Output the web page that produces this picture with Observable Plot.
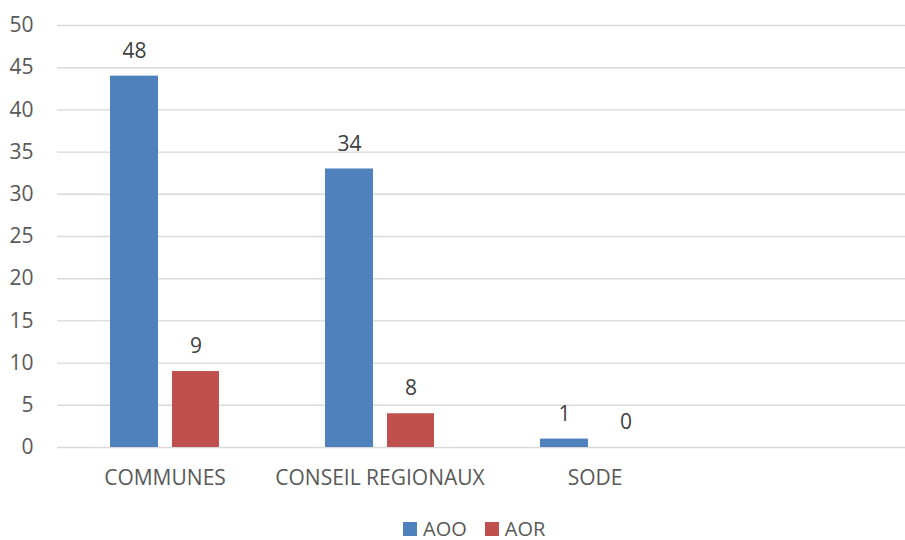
<!DOCTYPE html>
<html><head><meta charset="utf-8">
<script src="https://cdn.jsdelivr.net/npm/d3@7"></script>
<script src="https://cdn.jsdelivr.net/npm/@observablehq/plot@0.6"></script>
<style>
html,body{margin:0;padding:0;background:#fff;font-family:"Open Sans",sans-serif;}
body{position:relative;width:905px;height:540px;}
#plot{width:905px;height:500px;overflow:hidden;background:#fff;}
#plot svg{max-width:none !important;display:block;}
#legend{position:absolute;left:403px;top:518px;display:flex;align-items:center;font-size:20px;line-height:22px;color:#595959;white-space:nowrap;}
#legend .sw{display:inline-block;width:14px;height:14px;margin-right:6px;}
#legend .item{display:flex;align-items:center;margin-right:18px;}
</style></head><body>
<div id="plot"></div>
<script>
const categories = ["COMMUNES", "CONSEIL REGIONAUX", "SODE", ""];
const seriesNames = ["AOO", "AOR"];
const aooValues = [44, 33, 1];
const aorValues = [9, 4, 0];
const aooLabels = ["48", "34", "1"];
const aorLabels = ["9", "8", "0"];
const yTicks = [0, 5, 10, 15, 20, 25, 30, 35, 40, 45, 50];
const colors = ["#4F81BD", "#C0504D"];

const aooRows = aooValues.map((v, i) => ({cat: categories[i], series: "AOO", value: v, label: aooLabels[i]}));
const aorRows = aorValues.map((v, i) => ({cat: categories[i], series: "AOR", value: v, label: aorLabels[i]}));

const chart = Plot.plot({
  width: 917, height: 500,
  marginLeft: 57, marginRight: 0, marginTop: 25, marginBottom: 53,
  style: {fontSize: "21px", fontFamily: "Open Sans, sans-serif", color: "#595959", background: "#fff", maxWidth: "none"},
  x: {domain: categories, padding: 0, tickSize: 0, tickPadding: 23, label: null},
  y: {domain: [0, 50], ticks: yTicks, tickSize: 0, tickPadding: 24, label: null},
  color: {domain: seriesNames, range: colors},
  marks: [
    Plot.ruleY(yTicks, {stroke: "#d9d9d9", strokeWidth: 1.4}),
    Plot.barY(aooRows, {x: "cat", y: "value", fill: "series", insetLeft: 53, insetRight: 114}),
    Plot.barY(aorRows, {x: "cat", y: "value", fill: "series", insetLeft: 115, insetRight: 53}),
    Plot.text(aooRows, {x: "cat", y: "value", text: "label", dx: -30.5, dy: -25, fontSize: 21, fill: "#404040"}),
    Plot.text(aorRows, {x: "cat", y: "value", text: "label", dx: 31, dy: -25, fontSize: 21, fill: "#404040"})
  ]
});
document.getElementById("plot").appendChild(chart);
const legend = document.createElement("div");
legend.id = "legend";
seriesNames.forEach((s, i) => {
  const item = document.createElement("span");
  item.className = "item";
  const sw = document.createElement("span");
  sw.className = "sw";
  sw.style.background = colors[i];
  item.appendChild(sw);
  item.appendChild(document.createTextNode(s));
  legend.appendChild(item);
});
document.body.appendChild(legend);
</script>
</body></html>
